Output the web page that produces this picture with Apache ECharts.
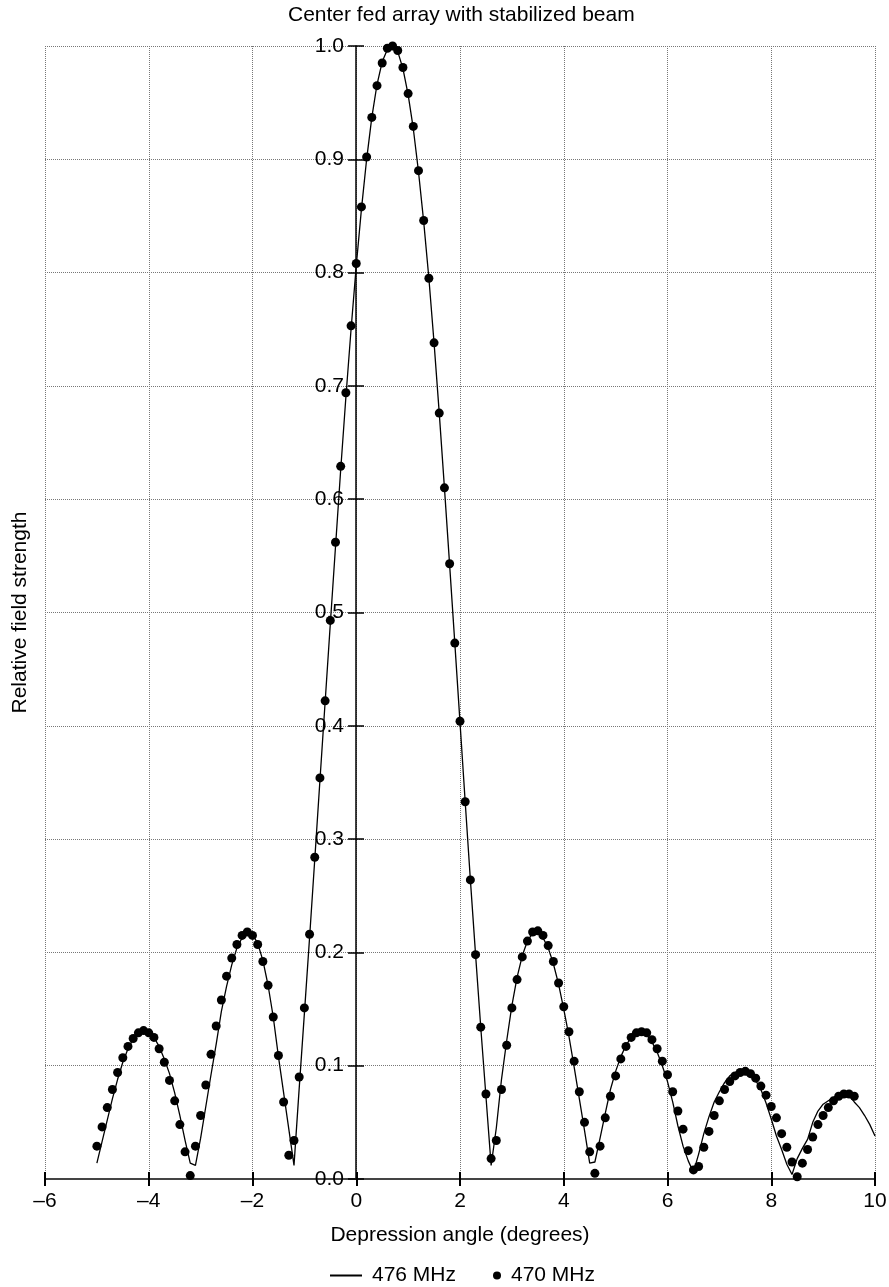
<!DOCTYPE html>
<html><head><meta charset="utf-8">
<script src="https://cdn.jsdelivr.net/npm/echarts@6/dist/echarts.min.js"></script>
<style>html,body{margin:0;padding:0;background:#fff}#chart{width:889px;height:1287px}</style>
</head><body><div id="chart"></div>
<script>
const titleText = 'Center fed array with stabilized beam';
const xAxisName = 'Depression angle (degrees)';
const yAxisName = 'Relative field strength';
const lineName = '476 MHz';
const dotName = '470 MHz';

const lineX = [-5.0,-4.9,-4.8,-4.7,-4.6,-4.5,-4.4,-4.3,-4.2,-4.1,-4.0,-3.9,-3.8,-3.7,-3.6,-3.5,-3.4,-3.3,-3.2,-3.1,
  -3.0,-2.9,-2.8,-2.7,-2.6,-2.5,-2.4,-2.3,-2.2,-2.1,-2.0,-1.9,-1.8,-1.7,-1.6,-1.5,-1.4,-1.3,-1.2,-1.1,
  -1.0,-0.9,-0.8,-0.7,-0.6,-0.5,-0.4,-0.3,-0.2,-0.1,0.0,0.1,0.2,0.3,0.4,0.5,0.6,0.7,0.8,0.9,
  1.0,1.1,1.2,1.3,1.4,1.5,1.6,1.7,1.8,1.9,2.0,2.1,2.2,2.3,2.4,2.5,2.6,2.7,2.8,2.9,
  3.0,3.1,3.2,3.3,3.4,3.5,3.6,3.7,3.8,3.9,4.0,4.1,4.2,4.3,4.4,4.5,4.6,4.7,4.8,4.9,
  5.0,5.1,5.2,5.3,5.4,5.5,5.6,5.7,5.8,5.9,6.0,6.1,6.2,6.3,6.4,6.5,6.6,6.7,6.8,6.9,
  7.0,7.1,7.2,7.3,7.4,7.5,7.6,7.7,7.8,7.9,8.0,8.1,8.2,8.3,8.4,8.5,8.6,8.7,8.8,8.9,
  9.0,9.1,9.2,9.3,9.4,9.5,9.6,9.7,9.8,9.9,10.0];
const lineY = [0.014,0.033,0.052,0.071,0.088,0.103,0.115,0.124,0.129,0.131,0.130,0.125,0.117,0.106,0.093,0.076,0.056,0.034,0.014,0.012,
  0.036,0.064,0.092,0.119,0.148,0.170,0.189,0.204,0.213,0.218,0.216,0.208,0.193,0.171,0.143,0.108,0.076,0.044,0.012,0.080,
  0.146,0.213,0.282,0.352,0.421,0.490,0.558,0.626,0.690,0.750,0.806,0.856,0.900,0.937,0.966,0.986,0.997,1.000,0.995,0.980,
  0.957,0.927,0.889,0.845,0.795,0.738,0.676,0.610,0.542,0.473,0.403,0.333,0.264,0.198,0.134,0.073,0.012,0.045,0.088,0.122,
  0.153,0.178,0.197,0.210,0.217,0.218,0.213,0.204,0.190,0.172,0.150,0.126,0.099,0.071,0.043,0.014,0.015,0.036,0.058,0.079,
  0.095,0.108,0.118,0.125,0.129,0.130,0.127,0.121,0.112,0.100,0.086,0.068,0.047,0.029,0.016,0.006,0.022,0.040,0.055,0.068,
  0.077,0.085,0.091,0.094,0.096,0.095,0.093,0.087,0.079,0.067,0.053,0.038,0.026,0.013,0.004,0.018,0.027,0.035,0.050,0.060,
  0.066,0.069,0.072,0.075,0.076,0.074,0.068,0.063,0.056,0.048,0.038];

const dotX = [-5.0,-4.9,-4.8,-4.7,-4.6,-4.5,-4.4,-4.3,-4.2,-4.1,-4.0,-3.9,-3.8,-3.7,-3.6,-3.5,-3.4,-3.3,-3.2,-3.1,
  -3.0,-2.9,-2.8,-2.7,-2.6,-2.5,-2.4,-2.3,-2.2,-2.1,-2.0,-1.9,-1.8,-1.7,-1.6,-1.5,-1.4,-1.3,-1.2,-1.1,
  -1.0,-0.9,-0.8,-0.7,-0.6,-0.5,-0.4,-0.3,-0.2,-0.1,0.0,0.1,0.2,0.3,0.4,0.5,0.6,0.7,0.8,0.9,
  1.0,1.1,1.2,1.3,1.4,1.5,1.6,1.7,1.8,1.9,2.0,2.1,2.2,2.3,2.4,2.5,2.6,2.7,2.8,2.9,
  3.0,3.1,3.2,3.3,3.4,3.5,3.6,3.7,3.8,3.9,4.0,4.1,4.2,4.3,4.4,4.5,4.6,4.7,4.8,4.9,
  5.0,5.1,5.2,5.3,5.4,5.5,5.6,5.7,5.8,5.9,6.0,6.1,6.2,6.3,6.4,6.5,6.6,6.7,6.8,6.9,
  7.0,7.1,7.2,7.3,7.4,7.5,7.6,7.7,7.8,7.9,8.0,8.1,8.2,8.3,8.4,8.5,8.6,8.7,8.8,8.9,
  9.0,9.1,9.2,9.3,9.4,9.5,9.6];
const dotY = [0.029,0.046,0.063,0.079,0.094,0.107,0.117,0.124,0.129,0.131,0.129,0.125,0.115,0.103,0.087,0.069,0.048,0.024,0.003,0.029,
  0.056,0.083,0.110,0.135,0.158,0.179,0.195,0.207,0.215,0.218,0.215,0.207,0.192,0.171,0.143,0.109,0.068,0.021,0.034,0.090,
  0.151,0.216,0.284,0.354,0.422,0.493,0.562,0.629,0.694,0.753,0.808,0.858,0.902,0.937,0.965,0.985,0.998,1.000,0.996,0.981,
  0.958,0.929,0.890,0.846,0.795,0.738,0.676,0.610,0.543,0.473,0.404,0.333,0.264,0.198,0.134,0.075,0.018,0.034,0.079,0.118,
  0.151,0.176,0.196,0.210,0.218,0.219,0.215,0.206,0.192,0.173,0.152,0.130,0.104,0.077,0.050,0.024,0.005,0.029,0.054,0.073,
  0.091,0.106,0.117,0.125,0.129,0.130,0.129,0.123,0.115,0.104,0.092,0.077,0.060,0.044,0.025,0.008,0.011,0.028,0.042,0.056,
  0.069,0.079,0.086,0.091,0.094,0.095,0.093,0.089,0.082,0.074,0.064,0.054,0.040,0.028,0.015,0.002,0.014,0.026,0.037,0.048,
  0.056,0.063,0.069,0.073,0.075,0.075,0.073];

const FONT = "'Liberation Sans', Arial, Helvetica, sans-serif";
const lineData = lineX.map((x, i) => [x, lineY[i]]);
const dotData = dotX.map((x, i) => [x, dotY[i]]);
const gridLine = { show: true, lineStyle: { type: 'dotted', color: '#777', width: 1 } };
const nameStyle = { fontSize: 21, color: '#000', fontFamily: FONT };
const legendText = { fontSize: 21, color: '#000', fontFamily: FONT, padding: [0, 0, 0, 5] };

const chart = echarts.init(document.getElementById('chart'), null, { renderer: 'canvas' });
chart.setOption({
  animation: false,
  backgroundColor: '#fff',
  textStyle: { fontFamily: FONT },
  title: {
    text: titleText, left: 288, top: 5, padding: 0,
    textStyle: { fontSize: 21, fontWeight: 'normal', color: '#000', fontFamily: FONT }
  },
  legend: [
    { data: [{ name: lineName, icon: 'rect' }], left: 330, top: 1265, padding: 0, itemWidth: 32, itemHeight: 2, selectedMode: false,
      textStyle: legendText },
    { data: [{ name: dotName, icon: 'circle' }], left: 493, top: 1265, padding: 0, itemWidth: 8, itemHeight: 8, selectedMode: false,
      textStyle: legendText }
  ],
  grid: [
    { left: 45, right: 14, top: 46, bottom: 108, containLabel: false, outerBoundsMode: 'none' },
    // grid whose left edge sits at x = 0, carrying the y axis
    { left: 356, right: 14, top: 46, bottom: 108, containLabel: false, outerBoundsMode: 'none' }
  ],
  xAxis: [
    { gridIndex: 0, type: 'value', min: -6, max: 10, interval: 2, position: 'bottom',
      name: xAxisName, nameLocation: 'middle', nameGap: 46, nameTextStyle: nameStyle,
      axisLine: { onZero: false, lineStyle: { color: '#444', width: 2 } },
      axisTick: { show: true, inside: false, length: 7, lineStyle: { color: '#000', width: 2 } },
      axisLabel: { margin: 12, fontSize: 21, color: '#000', fontFamily: FONT,
        formatter: v => v < 0 ? '\u2013' + Math.abs(v) : String(v) },
      splitLine: gridLine },
    { gridIndex: 0, type: 'value', min: -6, max: 10, interval: 2, position: 'bottom',
      axisLine: { show: false, onZero: false },
      axisTick: { show: true, inside: true, length: 7, lineStyle: { color: '#000', width: 2 } },
      axisLabel: { show: false }, splitLine: { show: false } },
    { gridIndex: 1, type: 'value', min: 0, max: 10, show: false }
  ],
  yAxis: [
    { gridIndex: 0, type: 'value', min: 0, max: 1, interval: 0.1,
      axisLine: { show: false }, axisTick: { show: false }, axisLabel: { show: false },
      splitLine: gridLine },
    { gridIndex: 1, type: 'value', min: 0, max: 1, interval: 0.1, position: 'left',
      name: yAxisName, nameLocation: 'middle', nameGap: 325, nameRotate: 90, nameTextStyle: nameStyle,
      axisLine: { show: true, onZero: false, lineStyle: { color: '#000', width: 1.5 } },
      axisTick: { show: true, inside: false, length: 8, lineStyle: { color: '#000', width: 1.5 } },
      axisLabel: { margin: 12, fontSize: 21, color: '#000', fontFamily: FONT, formatter: v => v.toFixed(1) },
      splitLine: { show: false } },
    { gridIndex: 1, type: 'value', min: 0, max: 1, interval: 0.1, position: 'left',
      axisLine: { show: false, onZero: false },
      axisTick: { show: true, inside: true, length: 8, lineStyle: { color: '#000', width: 1.5 } },
      axisLabel: { show: false }, splitLine: { show: false } }
  ],
  series: [
    { name: lineName, type: 'line', data: lineData, xAxisIndex: 0, yAxisIndex: 0,
      showSymbol: false, symbol: 'none', lineStyle: { color: '#000', width: 1.3 }, itemStyle: { color: '#000' }, z: 2 },
    { name: dotName, type: 'scatter', data: dotData, xAxisIndex: 0, yAxisIndex: 0,
      symbol: 'circle', symbolSize: 9, itemStyle: { color: '#000', opacity: 1 }, z: 3 }
  ]
});
</script></body></html>
